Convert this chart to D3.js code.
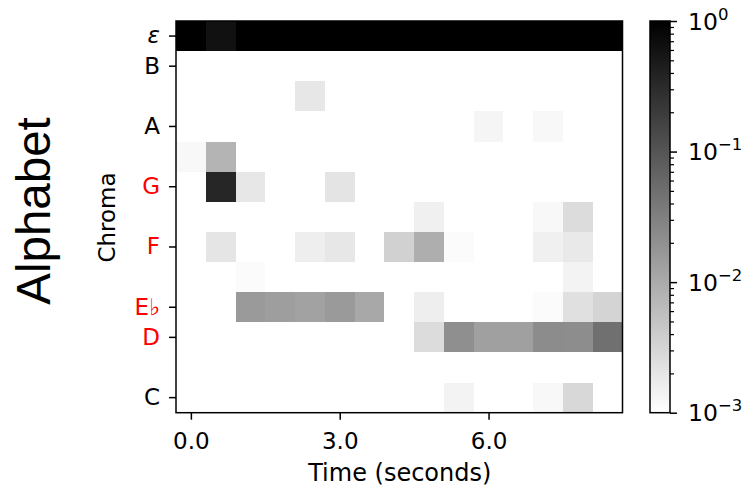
<!DOCTYPE html>
<html>
<head>
<meta charset="utf-8">
<script src="https://cdn.jsdelivr.net/npm/d3@7"></script>
<style>
  body { margin: 0; background: #fff; }
  svg text { font-family: "DejaVu Sans", sans-serif; }
</style>
</head>
<body>
<svg id="chart" width="747" height="489"></svg>
<script>
// Chroma classes, top to bottom (ε = no-chord / silence class)
const chroma = ["ε", "B", "B♭", "A", "A♭", "G", "F♯", "F", "E", "E♭", "D", "C♯", "C"];
const labelledChroma = ["ε", "B", "A", "G", "F", "E♭", "D", "C"];
const chordTones = ["G", "F", "E♭", "D"];

// Frame centres in seconds
const frameTimes = [0.0, 0.6, 1.2, 1.8, 2.4, 3.0, 3.6, 4.2, 4.8, 5.4, 6.0, 6.6, 7.2, 7.8, 8.4];
const frameWidth = 0.6;
const timeTicks = [0, 3, 6];

// Posterior probability per chroma row, one value per frame
const rowEps = [0.99, 0.63, 0.99, 0.99, 0.99, 0.99, 0.99, 0.99, 0.99, 0.99, 0.99, 0.99, 0.99, 0.99, 0.99];
const rowB   = [0.001, 0.001, 0.001, 0.001, 0.001, 0.001, 0.001, 0.001, 0.001, 0.001, 0.001, 0.001, 0.001, 0.001, 0.001];
const rowBb  = [0.001, 0.001, 0.001, 0.001, 0.0019, 0.001, 0.001, 0.001, 0.001, 0.001, 0.001, 0.001, 0.001, 0.001, 0.001];
const rowA   = [0.001, 0.001, 0.001, 0.001, 0.001, 0.001, 0.001, 0.001, 0.001, 0.001, 0.0013, 0.001, 0.0012, 0.001, 0.001];
const rowAb  = [0.0012, 0.0076, 0.001, 0.001, 0.001, 0.001, 0.001, 0.001, 0.001, 0.001, 0.001, 0.001, 0.001, 0.001, 0.001];
const rowG   = [0.001, 0.36, 0.0019, 0.001, 0.001, 0.0021, 0.001, 0.001, 0.001, 0.001, 0.001, 0.001, 0.001, 0.001, 0.001];
const rowFs  = [0.001, 0.001, 0.001, 0.001, 0.001, 0.001, 0.001, 0.001, 0.0015, 0.001, 0.001, 0.001, 0.0012, 0.0026, 0.001];
const rowF   = [0.001, 0.002, 0.001, 0.001, 0.0016, 0.0019, 0.001, 0.0035, 0.009, 0.0011, 0.001, 0.001, 0.0015, 0.0018, 0.001];
const rowE   = [0.001, 0.001, 0.0011, 0.001, 0.001, 0.001, 0.001, 0.001, 0.001, 0.001, 0.001, 0.001, 0.001, 0.0014, 0.001];
const rowEb  = [0.001, 0.001, 0.0154, 0.014, 0.0125, 0.0155, 0.0106, 0.001, 0.0016, 0.001, 0.001, 0.001, 0.0011, 0.0023, 0.0032];
const rowD   = [0.001, 0.001, 0.001, 0.001, 0.001, 0.001, 0.001, 0.001, 0.0026, 0.021, 0.013, 0.013, 0.0225, 0.022, 0.048];
const rowCs  = [0.001, 0.001, 0.001, 0.001, 0.001, 0.001, 0.001, 0.001, 0.001, 0.001, 0.001, 0.001, 0.001, 0.001, 0.001];
const rowC   = [0.001, 0.001, 0.001, 0.001, 0.001, 0.001, 0.001, 0.001, 0.001, 0.0014, 0.001, 0.001, 0.0012, 0.0029, 0.001];

const rows = [rowEps, rowB, rowBb, rowA, rowAb, rowG, rowFs, rowF, rowE, rowEb, rowD, rowCs, rowC];

// Colour bar ticks
const colorMajor = [1, 0.1, 0.01, 0.001];
const colorExponents = ["0", "−1", "−2", "−3"];

const svg = d3.select("#chart");
const plot = { left: 176, right: 622.5, top: 21, bottom: 412.7 };
const bar = { left: 650, right: 670, top: 21, bottom: 412.7 };

const x = d3.scaleLinear()
  .domain([frameTimes[0] - frameWidth / 2, frameTimes[frameTimes.length - 1] + frameWidth / 2])
  .range([plot.left, plot.right]);
const y = d3.scaleBand().domain(chroma).range([plot.top, plot.bottom]).padding(0);

// log-normalised grey scale: 1e-3 -> white, 1 -> black
const norm = d3.scaleLog().domain([1e-3, 1]).range([0, 1]).clamp(true);
const grey = v => { const g = Math.round(255 * (1 - norm(v))); return `rgb(${g},${g},${g})`; };

// Heatmap cells
const cells = [];
rows.forEach((vals, ri) => vals.forEach((v, ci) => cells.push({ c: chroma[ri], t: frameTimes[ci], v })));
svg.append("g").selectAll("rect").data(cells).join("rect")
  .attr("x", d => x(d.t - frameWidth / 2))
  .attr("y", d => y(d.c))
  .attr("width", d => x(d.t + frameWidth / 2) - x(d.t - frameWidth / 2) + 0.4)
  .attr("height", y.bandwidth() + 0.4)
  .attr("fill", d => grey(d.v))
  .attr("shape-rendering", "crispEdges");

// Frame
svg.append("rect")
  .attr("x", plot.left).attr("y", plot.top)
  .attr("width", plot.right - plot.left).attr("height", plot.bottom - plot.top)
  .attr("fill", "none").attr("stroke", "#000").attr("stroke-width", 1.5);

// Y axis
const yAxis = svg.append("g").attr("transform", `translate(${plot.left},0)`)
  .call(d3.axisLeft(y).tickValues(labelledChroma).tickSize(7).tickPadding(9));
yAxis.select(".domain").remove();
yAxis.selectAll(".tick line").attr("stroke", "#000").attr("stroke-width", 1.5);
yAxis.selectAll(".tick text")
  .attr("font-size", 23)
  .attr("font-family", "DejaVu Sans")
  .attr("fill", d => chordTones.includes(d) ? "#ff0000" : "#000")
  .attr("font-style", d => d === "ε" ? "italic" : "normal");

// X axis
const xAxis = svg.append("g").attr("transform", `translate(0,${plot.bottom})`)
  .call(d3.axisBottom(x).tickValues(timeTicks).tickFormat(d3.format(".1f")).tickSize(7).tickPadding(13));
xAxis.select(".domain").remove();
xAxis.selectAll(".tick line").attr("stroke", "#000").attr("stroke-width", 1.5);
xAxis.selectAll(".tick text").attr("font-size", 23).attr("font-family", "DejaVu Sans").attr("fill", "#000");

// Axis titles
svg.append("text")
  .attr("x", (plot.left + plot.right) / 2 + 0.5).attr("y", 481)
  .attr("text-anchor", "middle").attr("font-size", 24).text("Time (seconds)");
svg.append("text")
  .attr("transform", "translate(115,217.5) rotate(-90)")
  .attr("text-anchor", "middle").attr("font-size", 23).text("Chroma");
svg.append("text")
  .attr("transform", "translate(50,211) rotate(-90)")
  .attr("text-anchor", "middle").attr("font-size", 47.5)
  .style("font-family", "'Liberation Sans', Arial, sans-serif")
  .text("Alphabet");

// Colour bar
const defs = svg.append("defs");
const grad = defs.append("linearGradient").attr("id", "cbar")
  .attr("x1", 0).attr("y1", 1).attr("x2", 0).attr("y2", 0);
d3.range(0, 1.0001, 0.1).forEach(t => {
  const g = Math.round(255 * (1 - t));
  grad.append("stop").attr("offset", t).attr("stop-color", `rgb(${g},${g},${g})`);
});
const cy = d3.scaleLog().domain([1e-3, 1]).range([bar.bottom, bar.top]);
svg.append("rect")
  .attr("x", bar.left).attr("y", bar.top)
  .attr("width", bar.right - bar.left).attr("height", bar.bottom - bar.top)
  .attr("fill", "url(#cbar)").attr("stroke", "#000").attr("stroke-width", 1.5);

const minorTicks = [];
[0.001, 0.01, 0.1].forEach(base => d3.range(2, 10).forEach(m => minorTicks.push(base * m)));
const cAxis = svg.append("g").attr("transform", `translate(${bar.right},0)`);
cAxis.call(d3.axisRight(cy).tickValues(minorTicks).tickSize(4).tickFormat(""));
cAxis.select(".domain").remove();
cAxis.selectAll(".tick line").attr("stroke", "#000").attr("stroke-width", 1.2);
const cMajor = svg.append("g").attr("transform", `translate(${bar.right},0)`);
cMajor.call(d3.axisRight(cy).tickValues(colorMajor).tickSize(7).tickFormat(""));
cMajor.select(".domain").remove();
cMajor.selectAll(".tick line").attr("stroke", "#000").attr("stroke-width", 1.5);

const clabels = svg.append("g").selectAll("text").data(colorMajor).join("text")
  .attr("x", 688).attr("y", d => cy(d) + 8.5)
  .attr("font-size", 23.5).attr("fill", "#000");
clabels.append("tspan").text("10");
clabels.append("tspan").attr("dy", -10).attr("font-size", 16.5)
  .text((d, i) => colorExponents[i]);
</script>
</body>
</html>
